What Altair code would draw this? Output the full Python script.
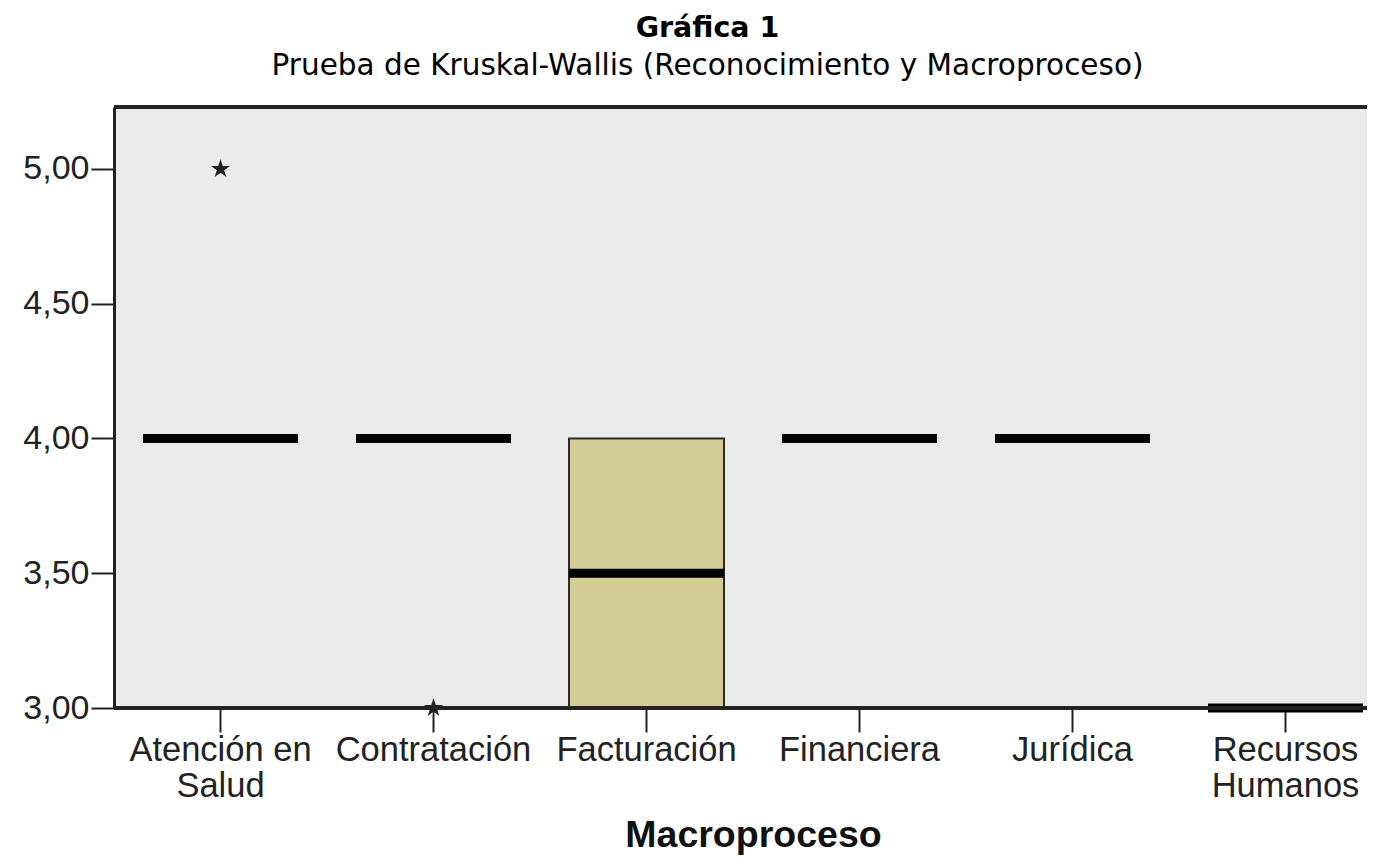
import altair as alt
import pandas as pd

categories = ["Atención en Salud", "Contratación", "Facturación", "Financiera", "Jurídica", "Recursos Humanos"]
q1 = [4.0, 4.0, 3.0, 4.0, 4.0, 3.0]
median = [4.0, 4.0, 3.5, 4.0, 4.0, 3.0]
q3 = [4.0, 4.0, 4.0, 4.0, 4.0, 3.0]
outlier_cat = ["Atención en Salud", "Contratación"]
outlier_val = [5.0, 3.0]
y_ticks = [3.0, 3.5, 4.0, 4.5, 5.0]

W = 1253
H = 601
STEP_RANGE = 1278
PAD_TOP = 99
PAD_LEFT = 106
TOTAL_H = 847

box_df = pd.DataFrame({"cat": categories, "q1": q1, "median": median, "q3": q3})
out_df = pd.DataFrame({"cat": outlier_cat, "val": outlier_val})

label_expr = ("datum.value == 'Atención en Salud' ? ['Atención en', 'Salud'] : "
              "datum.value == 'Recursos Humanos' ? ['Recursos', 'Humanos'] : datum.value")

x_enc = alt.X("cat:N", sort=categories,
              scale=alt.Scale(domain=categories, range=[0, STEP_RANGE], paddingInner=0, paddingOuter=0),
              axis=alt.Axis(title="Macroproceso", labelExpr=label_expr, labelAngle=0,
                            labelFont="Liberation Sans", labelFontSize=34.5, labelColor="#222",
                            labelLineHeight=36, labelPadding=1, labelBaseline="top", labelLimit=400,
                            tickSize=24, tickWidth=2, tickColor="#222", domain=False,
                            titleFont="Liberation Sans", titleFontSize=37.5, titleFontWeight="bold",
                            titleColor="#111", titlePadding=14))

y_scale = alt.Scale(domain=[3.0, 5.23], nice=False, zero=False)
y_axis = alt.Axis(title=None, values=y_ticks,
                  labelExpr="replace(format(datum.value, '.2f'), '.', ',')",
                  labelFont="Liberation Sans", labelFontSize=34, labelColor="#222", labelPadding=2,
                  tickSize=23, tickWidth=2, tickColor="#222",
                  domainWidth=3, domainColor="#222", grid=False)

base = alt.Chart(box_df)

boxes = base.transform_filter("datum.q3 > datum.q1").mark_bar(
    size=155, color="#D3CD95", stroke="#2a2a2a", strokeWidth=2, opacity=1
).encode(x=x_enc, y=alt.Y("q1:Q", scale=y_scale, axis=y_axis), y2="q3:Q")

medians = base.mark_tick(thickness=9, size=155, color="#000000", opacity=1).encode(
    x=alt.X("cat:N", sort=categories), y=alt.Y("median:Q"))

star_path = ("M0,-1L0.224,-0.309L0.951,-0.309L0.363,0.118L0.588,0.809L0,0.382"
             "L-0.588,0.809L-0.363,0.118L-0.951,-0.309L-0.224,-0.309Z")
outliers = alt.Chart(out_df).mark_point(shape=star_path, size=400, filled=True,
                                        color="#222222", opacity=1).encode(
    x=alt.X("cat:N", sort=categories), y=alt.Y("val:Q"))

frame_rules = alt.Chart(box_df).mark_rule(color="#222", strokeWidth=3).encode(
    x=alt.value(0), x2=alt.value(W), y=alt.value(0))
bottom_rule = alt.Chart(box_df).mark_rule(color="#222", strokeWidth=3).encode(
    x=alt.value(0), x2=alt.value(W), y=alt.value(H))

chart = alt.layer(boxes, medians, outliers, frame_rules, bottom_rule).properties(
    width=W, height=H,
    autosize=alt.AutoSizeParams(type="none"),
    title=alt.TitleParams(text="Gráfica 1",
                          subtitle="Prueba de Kruskal-Wallis (Reconocimiento y Macroproceso)",
                          font="DejaVu Sans", fontSize=28.5, fontWeight="bold", color="#000",
                          subtitleFont="DejaVu Sans", subtitleFontSize=29.5, subtitleColor="#000",
                          subtitlePadding=9, anchor="middle", dx=-33, offset=25.5),
    padding={"left": PAD_LEFT, "top": PAD_TOP, "right": 0, "bottom": TOTAL_H - PAD_TOP - H},
).configure_view(fill="#EAEAEA", stroke=None)

chart.save("out.html", embed_options={"renderer": "svg", "actions": False})
